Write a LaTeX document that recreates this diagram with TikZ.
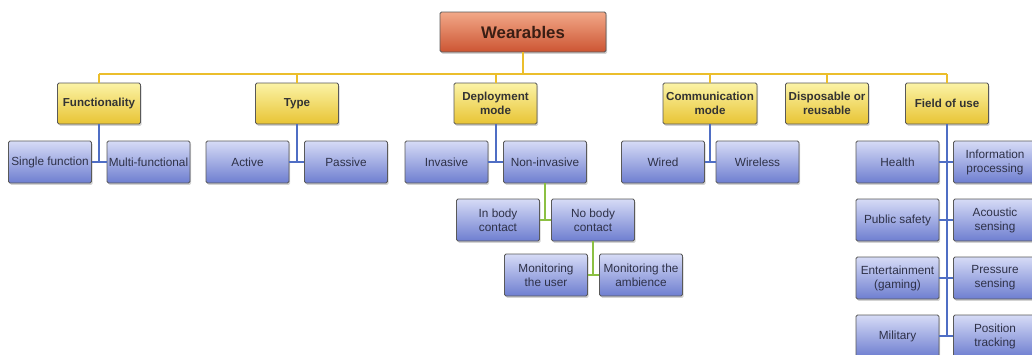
\documentclass[tikz,border=0pt]{standalone}
\usepackage{fontspec}
\setmainfont{Liberation Sans}
\usetikzlibrary{shadows}

\definecolor{rootTop}{HTML}{F2A888}
\definecolor{rootBot}{HTML}{CC5533}
\definecolor{catTop}{HTML}{FBF3A6}
\definecolor{catBot}{HTML}{E8C434}
\definecolor{leafTop}{HTML}{D6DBF6}
\definecolor{leafBot}{HTML}{6E7ED0}
\definecolor{busYellow}{HTML}{EBBE2C}
\definecolor{busBlue}{HTML}{4F6EC4}
\definecolor{busGreen}{HTML}{8CC043}
\definecolor{inkDark}{HTML}{2E3148}
\definecolor{inkBrown}{HTML}{3A1E14}

\tikzset{
  boxbase/.style={draw=gray!70!black, line width=0.8pt, rounded corners=1.5pt,
    align=center, inner sep=0pt, minimum height=42,
    drop shadow={shadow xshift=1.2pt, shadow yshift=-1.8pt, opacity=0.35}},
  rootbox/.style={boxbase, top color=rootTop, bottom color=rootBot, text=inkBrown,
    minimum width=166, minimum height=40, font=\fontsize{16.8}{18}\selectfont\bfseries},
  catbox/.style={boxbase, top color=catTop, bottom color=catBot, minimum width=83,
    minimum height=41, text=black!80, font=\fontsize{11.6}{14}\selectfont\bfseries},
  leafbox/.style={boxbase, top color=leafTop, bottom color=leafBot, minimum width=83,
    text=inkDark, font=\fontsize{11.8}{14}\selectfont},
  yline/.style={busYellow, line width=2pt},
  bline/.style={busBlue, line width=2pt},
  gline/.style={busGreen, line width=2pt}
}

\begin{document}
\begin{tikzpicture}[x=1pt, y=-1pt]
    \useasboundingbox (0,0) rectangle (1032,354);

    % Root
    \node[rootbox] (wear) at (523,32) {Wearables};

    % Categories
    \node[catbox] (func)  at (99,103.5)  {Functionality};
    \node[catbox] (type)  at (297,103.5) {Type};
    \node[catbox] (depl)  at (495.5,103.5) {Deployment\\mode};
    \node[catbox, minimum width=94] (comm) at (710,103.5) {Communication\\mode};
    \node[catbox] (disp)  at (827,103.5) {Disposable or\\reusable};
    \node[catbox] (field) at (947,103.5) {Field of use};

    % First level leaves
    \node[leafbox] (single)   at (50,162)    {Single function};
    \node[leafbox] (multi)    at (148.5,162) {Multi-functional};
    \node[leafbox] (active)   at (247.5,162) {Active};
    \node[leafbox] (passive)  at (346,162)   {Passive};
    \node[leafbox] (invasive) at (446.5,162) {Invasive};
    \node[leafbox] (noninv)   at (545,162)   {Non-invasive};
    \node[leafbox] (wired)    at (663,162)   {Wired};
    \node[leafbox] (wireless) at (757.5,162) {Wireless};

    % Deployment sub-levels
    \node[leafbox] (inbody)  at (498,220) {In body\\contact};
    \node[leafbox] (nobody)  at (593,220) {No body\\contact};
    \node[leafbox] (monuser) at (546,275) {Monitoring\\the user};
    \node[leafbox] (monamb)  at (641,275) {Monitoring the\\ambience};

    % Field of use column
    \node[leafbox] (health) at (897.5,162) {Health};
    \node[leafbox] (info)   at (995,162)   {Information\\processing};
    \node[leafbox] (safety) at (897.5,220) {Public safety};
    \node[leafbox] (acoust) at (995,220)   {Acoustic\\sensing};
    \node[leafbox] (enter)  at (897.5,278) {Entertainment\\(gaming)};
    \node[leafbox] (press)  at (995,278)   {Pressure\\sensing};
    \node[leafbox] (milit)  at (897.5,336) {Military};
    \node[leafbox] (posit)  at (995,336)   {Position\\tracking};

    % Yellow bus
    \coordinate (bus) at (0,74);
    \draw[yline] (wear.south) -- (wear.south |- bus);
    \draw[yline] (func.north |- bus) -- (field.north |- bus);
    \foreach \c in {func,type,depl,comm,disp,field} {
        \draw[yline] (\c.north |- bus) -- (\c.north);
    }

    % Blue links
    \foreach \p/\l/\r in {func/single/multi, type/active/passive,
                          depl/invasive/noninv, comm/wired/wireless} {
        \draw[bline] (\p.south) -- (\p.south |- \l.east);
        \draw[bline] (\l.east) -- (\r.west);
    }
    \draw[bline] (field.south) -- (field.south |- milit.east);
    \foreach \l/\r in {health/info, safety/acoust, enter/press, milit/posit} {
        \draw[bline] (\l.east) -- (\r.west);
    }

    % Green links
    \draw[gline] (noninv.south) -- (noninv.south |- inbody.east);
    \draw[gline] (inbody.east) -- (nobody.west);
    \draw[gline] (nobody.south) -- (nobody.south |- monuser.east);
    \draw[gline] (monuser.east) -- (monamb.west);
\end{tikzpicture}
\end{document}
